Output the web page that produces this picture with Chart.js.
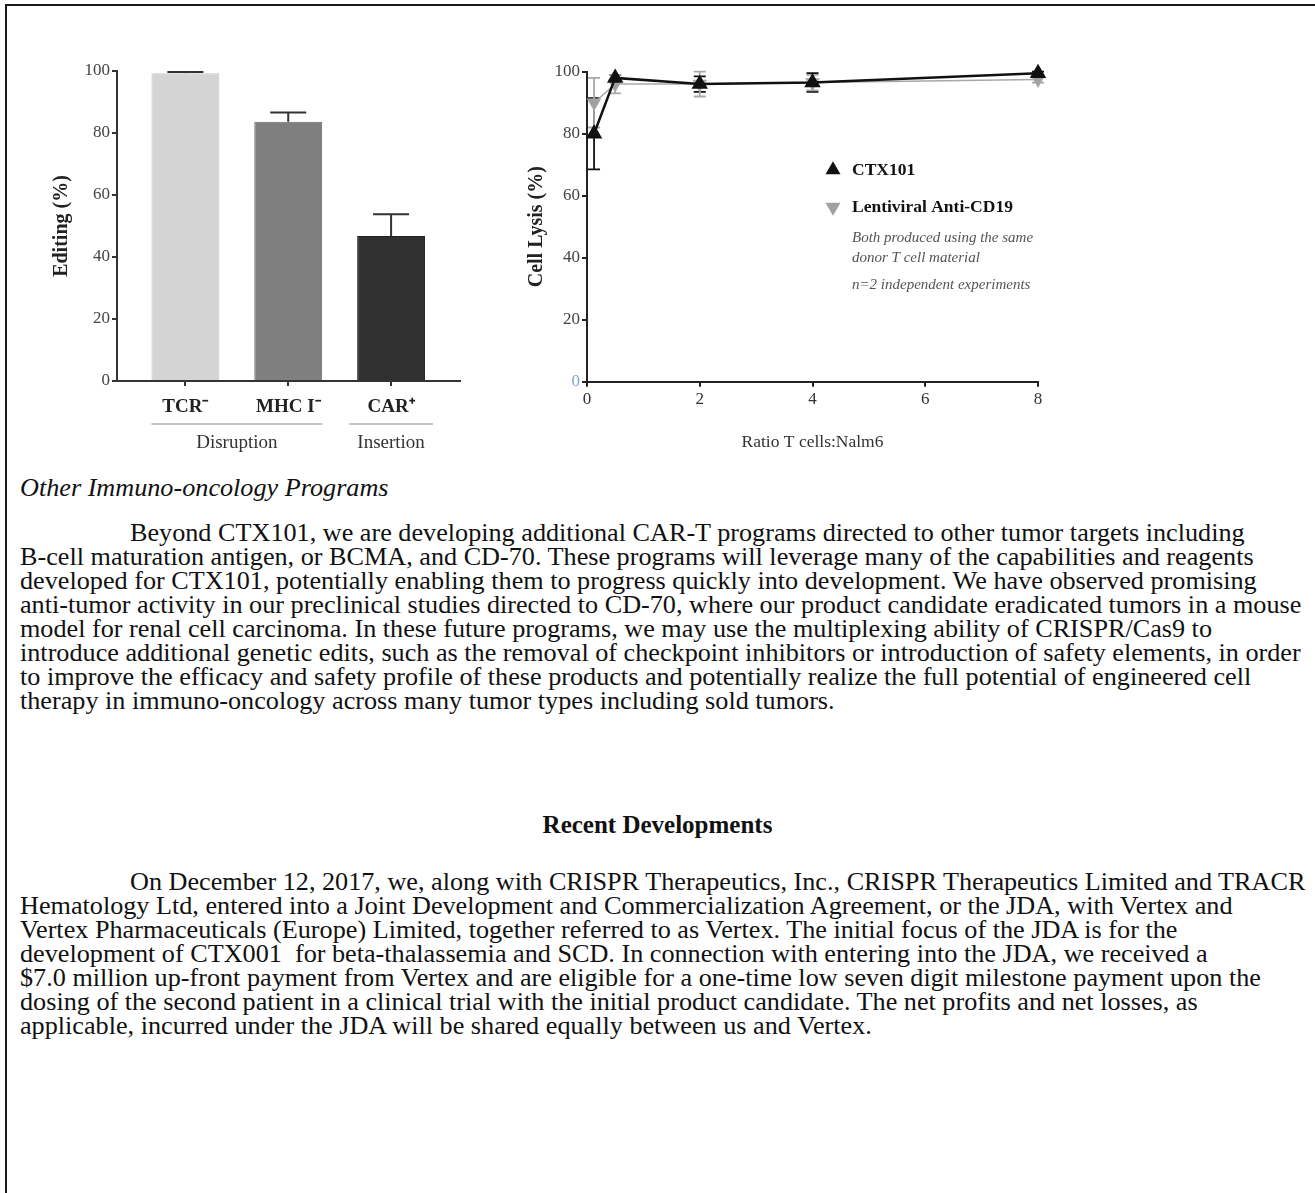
<!DOCTYPE html>
<html>
<head>
<meta charset="utf-8">
<script src="https://cdn.jsdelivr.net/npm/chart.js@4.4.1/dist/chart.umd.min.js"></script>
<style>
  body { margin: 0; background: #fff; width: 1315px; height: 1193px; overflow: hidden; position: relative;
         font-family: "Liberation Serif", "Times New Roman", serif; color: #111; }
  #frame { position: absolute; left: 5px; top: 4px; right: -5px; bottom: -5px;
           border-top: 2px solid #1a1a1a; border-left: 2px solid #1a1a1a; }
  canvas { position: absolute; }
  .txt { position: absolute; left: 20px; font-size: 26.2px; line-height: 24px; white-space: nowrap; }
  .txt div { height: 24px; }
  .ind { padding-left: 110px; }
</style>
</head>
<body>
<div id="frame"></div>
<canvas id="bars" width="450" height="430" style="left:20px;top:40px"></canvas>
<canvas id="lysis" width="580" height="430" style="left:480px;top:40px"></canvas>

<div class="txt" style="top:476px"><i>Other Immuno-oncology Programs</i></div>
<div class="txt" style="top:521px">
  <div class="ind">Beyond CTX101, we are developing additional CAR-T programs directed to other tumor targets including</div>
  <div>B-cell maturation antigen, or BCMA, and CD-70. These programs will leverage many of the capabilities and reagents</div>
  <div>developed for CTX101, potentially enabling them to progress quickly into development. We have observed promising</div>
  <div>anti-tumor activity in our preclinical studies directed to CD-70, where our product candidate eradicated tumors in a mouse</div>
  <div>model for renal cell carcinoma. In these future programs, we may use the multiplexing ability of CRISPR/Cas9 to</div>
  <div>introduce additional genetic edits, such as the removal of checkpoint inhibitors or introduction of safety elements, in order</div>
  <div>to improve the efficacy and safety profile of these products and potentially realize the full potential of engineered cell</div>
  <div>therapy in immuno-oncology across many tumor types including sold tumors.</div>
</div>
<div class="txt" style="top:813px;left:0;width:1315px;text-align:center;font-size:25px"><b>Recent Developments</b></div>
<div class="txt" style="top:870px">
  <div class="ind">On December 12, 2017, we, along with CRISPR Therapeutics, Inc., CRISPR Therapeutics Limited and TRACR</div>
  <div>Hematology Ltd, entered into a Joint Development and Commercialization Agreement, or the JDA, with Vertex and</div>
  <div>Vertex Pharmaceuticals (Europe) Limited, together referred to as Vertex. The initial focus of the JDA is for the</div>
  <div>development of CTX001&nbsp; for beta-thalassemia and SCD. In connection with entering into the JDA, we received a</div>
  <div>$7.0 million up-front payment from Vertex and are eligible for a one-time low seven digit milestone payment upon the</div>
  <div>dosing of the second patient in a clinical trial with the initial product candidate. The net profits and net losses, as</div>
  <div>applicable, incurred under the JDA will be shared equally between us and Vertex.</div>
</div>

<script>
// editing chart
const barCats = ["TCR⁻", "MHC I⁻", "CAR⁺"];
const barValues = [99.3, 83.6, 46.8];
const barErrors = [0.4, 3, 7];
const barColors = ["#d4d4d4", "#7f7f7f", "#303030"];
const barGroups = ["Disruption", "Insertion"];
const barGroupSpan = [[0, 1], [2, 2]];

// lysis chart
const ratios = [0.125, 0.5, 2, 4, 8];
const ctx101 = [80, 98, 96, 96.5, 99.5];
const ctx101Err = [11.5, 1, 2.5, 3, 0.5];
const lenti = [90, 96, 96, 96.5, 97.5];
const lentiErr = [8, 3, 4, 2.5, 1];
const legendNotes = ["Both produced using the same", "donor T cell material", "n=2 independent experiments"];

const SERIF = '"Liberation Serif", "Times New Roman", serif';
Chart.defaults.font.family = SERIF;
Chart.defaults.color = "#333";

// error bars, drawn from dataset.errors
const errorBars = {
  id: "errorBars",
  beforeDatasetsDraw(chart, args, opts) {
    const ctx = chart.ctx, y = chart.scales.y;
    chart.data.datasets.forEach((ds, i) => {
      if (!ds.errors) return;
      const meta = chart.getDatasetMeta(i);
      ctx.save();
      ctx.strokeStyle = ds.errorColor || ds.borderColor;
      ctx.lineWidth = opts.width;
      meta.data.forEach((el, j) => {
        const val = ds.data[j].y, e = ds.errors[j];
        const top = y.getPixelForValue(val + e);
        const bot = opts.upperOnly ? el.y : y.getPixelForValue(val - e);
        const c = opts.cap / 2;
        ctx.beginPath();
        ctx.moveTo(el.x, top); ctx.lineTo(el.x, bot);
        ctx.moveTo(el.x - c, top); ctx.lineTo(el.x + c, top);
        if (!opts.upperOnly) { ctx.moveTo(el.x - c, bot); ctx.lineTo(el.x + c, bot); }
        ctx.stroke();
      });
      ctx.restore();
    });
  }
};

// Disruption / Insertion under the category labels
const groupLabels = {
  id: "groupLabels",
  afterDraw(chart, args, opts) {
    const ctx = chart.ctx, meta = chart.getDatasetMeta(0);
    const base = chart.chartArea.bottom;
    ctx.save();
    barGroups.forEach((g, k) => {
      const a = meta.data[barGroupSpan[k][0]], b = meta.data[barGroupSpan[k][1]];
      const l = a.x - a.width / 2 - opts.extend * k;
      const r = b.x + b.width / 2 + opts.extend * k;
      ctx.strokeStyle = "#c4c4c4";
      ctx.lineWidth = 2;
      ctx.beginPath();
      ctx.moveTo(l, base + opts.lineGap); ctx.lineTo(r, base + opts.lineGap);
      ctx.stroke();
      ctx.fillStyle = "#333";
      ctx.font = "19px " + SERIF;
      ctx.textAlign = "center";
      ctx.textBaseline = "middle";
      ctx.fillText(g, (l + r) / 2, base + opts.textGap);
    });
    ctx.restore();
  }
};

function triangle(ctx, x, y, w, down) {
  const h = w * 0.87, s = down ? -1 : 1;
  ctx.beginPath();
  ctx.moveTo(x, y - s * h * 2 / 3);
  ctx.lineTo(x - w / 2, y + s * h / 3);
  ctx.lineTo(x + w / 2, y + s * h / 3);
  ctx.closePath();
  ctx.fill();
}

const noteLegend = {
  id: "noteLegend",
  afterDraw(chart, args, opts) {
    const { ctx, chartArea } = chart;
    const x0 = chartArea.left + opts.x, y0 = chartArea.top + opts.y;
    ctx.save();
    ctx.textBaseline = "middle";
    ctx.textAlign = "left";
    chart.data.datasets.forEach((ds, i) => {
      const cy = y0 + i * opts.rowGap;
      ctx.fillStyle = ds.backgroundColor;
      triangle(ctx, x0, cy, 15, ds.rotation === 180);
      ctx.fillStyle = "#111";
      ctx.font = "bold 17.5px " + SERIF;
      ctx.fillText(ds.label, x0 + 19, cy);
    });
    ctx.fillStyle = "#555";
    ctx.font = "italic 15px " + SERIF;
    legendNotes.forEach((t, k) => ctx.fillText(t, x0 + 19, y0 + opts.noteOffsets[k]));
    ctx.restore();
  }
};

new Chart(document.getElementById("bars"), {
  type: "bar",
  data: {
    datasets: [{
      data: barValues.map((v, i) => ({ x: i, y: v })),
      errors: barErrors,
      errorColor: "#333",
      backgroundColor: barColors,
      borderColor: ["#c6c6c6", "#6c6c6c", "#222"],
      borderWidth: 1,
      barPercentage: 0.66,
      categoryPercentage: 1
    }]
  },
  options: {
    responsive: false,
    animation: false,
    layout: { padding: { left: 0, right: 10, top: 31, bottom: 0 } },
    plugins: {
      legend: { display: false },
      tooltip: { enabled: false },
      errorBars: { width: 2, cap: 36, upperOnly: true },
      groupLabels: { lineGap: 43, textGap: 62, extend: 8 }
    },
    scales: {
      x: {
        type: "linear",
        min: -0.665,
        max: 2.67,
        offset: false,
        afterBuildTicks: s => { s.ticks = barCats.map((c, i) => ({ value: i })); },
        afterFit: s => { s.height = 89; },
        grid: { offset: false, drawOnChartArea: false, tickLength: 5, color: "#333", lineWidth: 2 },
        border: { color: "#333", width: 2 },
        ticks: {
          callback: v => barCats[v],
          autoSkip: false, maxRotation: 0, padding: 10,
          color: "#222", font: { size: 19, weight: "bold" }
        }
      },
      y: {
        min: 0,
        max: 100,
        afterFit: s => { s.width = 97; },
        grid: { drawOnChartArea: false, tickLength: 5, color: "#333", lineWidth: 2 },
        border: { color: "#333", width: 2 },
        ticks: { stepSize: 20, padding: 2, color: "#444", font: { size: 17 } },
        title: { display: true, text: "Editing (%)", color: "#222",
                 font: { size: 20, weight: "bold" }, padding: { top: 30 } }
      }
    }
  },
  plugins: [errorBars, groupLabels]
});

new Chart(document.getElementById("lysis"), {
  type: "line",
  data: {
    datasets: [
      {
        label: "CTX101",
        data: ratios.map((r, i) => ({ x: r, y: ctx101[i] })),
        errors: ctx101Err,
        borderColor: "#111",
        backgroundColor: "#111",
        borderWidth: 2.5,
        pointStyle: "triangle",
        pointRadius: 7,
        rotation: 0,
        clip: false
      },
      {
        label: "Lentiviral Anti-CD19",
        data: ratios.map((r, i) => ({ x: r, y: lenti[i] })),
        errors: lentiErr,
        borderColor: "#a8a8a8",
        backgroundColor: "#a0a0a0",
        borderWidth: 1.5,
        pointStyle: "triangle",
        pointRadius: 7,
        rotation: 180,
        clip: false
      }
    ]
  },
  options: {
    responsive: false,
    animation: false,
    layout: { padding: { left: 0, right: 22, top: 31.7, bottom: 0 } },
    plugins: {
      legend: { display: false },
      tooltip: { enabled: false },
      errorBars: { width: 1.8, cap: 12, upperOnly: false },
      noteLegend: { x: 246, y: 98.3, rowGap: 37, noteOffsets: [68, 88, 115] }
    },
    scales: {
      x: {
        type: "linear",
        min: 0,
        max: 8,
        afterFit: s => { s.height = 88.3; },
        grid: { drawOnChartArea: false, tickLength: 5, color: "#222", lineWidth: 2 },
        border: { color: "#222", width: 2 },
        ticks: { stepSize: 2, padding: 3, color: "#333", font: { size: 17 } },
        title: { display: true, text: "Ratio T cells:Nalm6", color: "#333",
                 font: { size: 17.5 }, padding: { bottom: 17 } }
      },
      y: {
        min: 0,
        max: 100,
        afterFit: s => { s.width = 107; },
        grid: { drawOnChartArea: false, tickLength: 5, color: "#222", lineWidth: 2 },
        border: { color: "#222", width: 2 },
        ticks: { stepSize: 20, padding: 2, font: { size: 17 },
                 color: c => (c.tick.value === 0 ? "#7fa8d8" : "#444") },
        title: { display: true, text: "Cell Lysis (%)", color: "#222",
                 font: { size: 20, weight: "bold" }, padding: { top: 45 } }
      }
    }
  },
  plugins: [errorBars, noteLegend]
});
</script>
</body>
</html>
